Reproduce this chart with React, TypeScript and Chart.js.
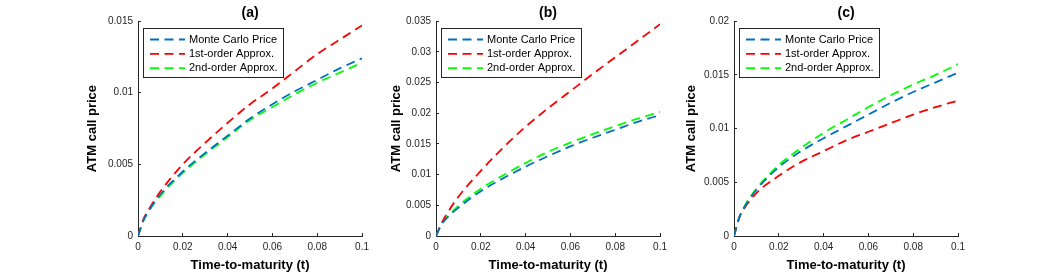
import React, { useEffect, useRef } from "react";
import { Chart, registerables } from "chart.js";

Chart.register(...registerables);

const FONT = "'Liberation Sans', Arial, Helvetica, sans-serif";

// ---- shared data ----
const xValues = [0, 0.0025, 0.005, 0.01, 0.02, 0.03, 0.04, 0.05, 0.06, 0.07, 0.08, 0.09, 0.1];
const seriesLabels = ["Monte Carlo Price", "1st-order Approx.", "2nd-order Approx."];
const seriesColors = ["#0072BD", "#FF0000", "#00FF00"];
const xTicks = [0, 0.02, 0.04, 0.06, 0.08, 0.1];
const xTickLabels = ["0", "0.02", "0.04", "0.06", "0.08", "0.1"];
const panelTitles = ["(a)", "(b)", "(c)"];
const xTitle = "Time-to-maturity (t)";
const yTitle = "ATM call price";

// ---- panel (a) ----
const aMonteCarlo = [0, 0.0011, 0.0018, 0.0029, 0.0045, 0.0058, 0.007, 0.0082, 0.0092, 0.0101, 0.0109, 0.0117, 0.0124];
const aFirstOrder = [0, 0.0012, 0.0019, 0.0031, 0.005, 0.0065, 0.0079, 0.0092, 0.0103, 0.0115, 0.0127, 0.0137, 0.0147];
const aSecondOrder = [0, 0.0011, 0.0018, 0.0028, 0.0044, 0.0057, 0.0069, 0.0081, 0.009, 0.0099, 0.0107, 0.0114, 0.0121];
const aYTicks = [0, 0.005, 0.01, 0.015];
const aYTickLabels = ["0", "0.005", "0.01", "0.015"];

// ---- panel (b) ----
const bMonteCarlo = [0, 0.0019, 0.003, 0.0046, 0.0073, 0.0094, 0.0113, 0.013, 0.0146, 0.016, 0.0173, 0.0186, 0.0197];
const bFirstOrder = [0, 0.0021, 0.0037, 0.0064, 0.0106, 0.0144, 0.0178, 0.0208, 0.0236, 0.0264, 0.0291, 0.0318, 0.0345];
const bSecondOrder = [0, 0.002, 0.0031, 0.0049, 0.0077, 0.0099, 0.0119, 0.0137, 0.0152, 0.0166, 0.0179, 0.0191, 0.0202];
const bYTicks = [0, 0.005, 0.01, 0.015, 0.02, 0.025, 0.03, 0.035];
const bYTickLabels = ["0", "0.005", "0.01", "0.015", "0.02", "0.025", "0.03", "0.035"];

// ---- panel (c) ----
const cMonteCarlo = [0, 0.0018, 0.0028, 0.0043, 0.0064, 0.0079, 0.0091, 0.0102, 0.0113, 0.0124, 0.0134, 0.0143, 0.0152];
const cFirstOrder = [0, 0.0018, 0.0027, 0.004, 0.0056, 0.0069, 0.0079, 0.0089, 0.0097, 0.0105, 0.0113, 0.012, 0.0126];
const cSecondOrder = [0, 0.0018, 0.0029, 0.0044, 0.0066, 0.0082, 0.0096, 0.0108, 0.012, 0.0131, 0.0141, 0.015, 0.016];
const cYTicks = [0, 0.005, 0.01, 0.015, 0.02];
const cYTickLabels = ["0", "0.005", "0.01", "0.015", "0.02"];

const panels = [
  { title: panelTitles[0], series: [aMonteCarlo, aFirstOrder, aSecondOrder], yTicks: aYTicks, yLabels: aYTickLabels, canvasLeft: 85, yWidth: 53 },
  { title: panelTitles[1], series: [bMonteCarlo, bFirstOrder, bSecondOrder], yTicks: bYTicks, yLabels: bYTickLabels, canvasLeft: 389, yWidth: 47 },
  { title: panelTitles[2], series: [cMonteCarlo, cFirstOrder, cSecondOrder], yTicks: cYTicks, yLabels: cYTickLabels, canvasLeft: 684, yWidth: 50 },
];

const PLOT_W = 227;
const RIGHT_PAD = 12;
const CANVAS_H = 273;
const AXIS_COLOR = "#262626";
const DASH = [9, 5.5];
const LINE_W = 1.8;

const boxLegend = {
  id: "boxLegend",
  afterDatasetsDraw(chart: any) {
    const { ctx, chartArea } = chart;
    const x0 = Math.round(chartArea.left + 5);
    const y0 = Math.round(chartArea.top + 7);
    const w = 140;
    const h = 49;
    ctx.save();
    ctx.fillStyle = "#ffffff";
    ctx.fillRect(x0, y0, w, h);
    ctx.strokeStyle = AXIS_COLOR;
    ctx.lineWidth = 1;
    ctx.strokeRect(x0 + 0.5, y0 + 0.5, w, h);
    chart.data.datasets.forEach((ds: any, i: number) => {
      const y = y0 + 11.5 + i * 14.3;
      ctx.strokeStyle = ds.borderColor;
      ctx.lineWidth = ds.borderWidth;
      ctx.setLineDash(ds.borderDash);
      ctx.beginPath();
      ctx.moveTo(x0 + 7, y);
      ctx.lineTo(x0 + 42, y);
      ctx.stroke();
      ctx.setLineDash([]);
      ctx.fillStyle = "#000000";
      ctx.font = `11px ${FONT}`;
      ctx.textBaseline = "middle";
      ctx.textAlign = "left";
      ctx.fillText(ds.label, x0 + 46, y);
    });
    ctx.restore();
  },
};

function Panel(props: any) {
  const { title, series, yTicks, yLabels, canvasLeft, yWidth } = props;
  const ref = useRef<HTMLCanvasElement>(null);
  const width = yWidth + PLOT_W + RIGHT_PAD;

  useEffect(() => {
    if (!ref.current) return;
    const datasets = series.map((vals: number[], i: number) => ({
      label: seriesLabels[i],
      data: xValues.map((x, j) => ({ x, y: vals[j] })),
      borderColor: seriesColors[i],
      backgroundColor: seriesColors[i],
      borderWidth: LINE_W,
      borderDash: DASH,
      pointRadius: 0,
      fill: false,
      cubicInterpolationMode: "monotone",
    }));
    const chart = new Chart(ref.current, {
      type: "line",
      data: { datasets },
      plugins: [boxLegend],
      options: {
        animation: false,
        responsive: false,
        devicePixelRatio: 1,
        layout: { padding: { left: 0, right: RIGHT_PAD, top: 0, bottom: 0 } },
        plugins: {
          legend: { display: false },
          tooltip: { enabled: false },
          title: {
            display: true,
            text: title,
            color: "#000000",
            font: { family: FONT, size: 14, weight: "bold" },
            padding: { top: 4.3, bottom: 0 },
            fullSize: false,
          },
        },
        scales: {
          x: {
            type: "linear",
            position: "bottom",
            min: xTicks[0],
            max: xTicks[xTicks.length - 1],
            afterBuildTicks: (scale: any) => {
              scale.ticks = xTicks.map((v) => ({ value: v }));
            },
            afterFit: (scale: any) => {
              scale.height = 37;
            },
            border: { display: true, color: AXIS_COLOR, width: 1 },
            grid: { drawOnChartArea: false, drawTicks: true, tickLength: -3, color: AXIS_COLOR },
            ticks: {
              padding: 8,
              maxRotation: 0,
              color: AXIS_COLOR,
              font: { family: FONT, size: 10 },
              callback: (_v: any, i: number) => xTickLabels[i],
            },
            title: {
              display: true,
              text: xTitle,
              color: "#000000",
              font: { family: FONT, size: 13, weight: "bold" },
              padding: { top: 0, bottom: 0 },
            },
          },
          y: {
            type: "linear",
            position: "left",
            min: yTicks[0],
            max: yTicks[yTicks.length - 1],
            afterBuildTicks: (scale: any) => {
              scale.ticks = yTicks.map((v: number) => ({ value: v }));
            },
            afterFit: (scale: any) => {
              scale.width = yWidth;
            },
            border: { display: true, color: AXIS_COLOR, width: 1 },
            grid: { drawOnChartArea: false, drawTicks: true, tickLength: -3, color: AXIS_COLOR },
            ticks: {
              padding: 8,
              color: AXIS_COLOR,
              font: { family: FONT, size: 10 },
              callback: (_v: any, i: number) => yLabels[i],
            },
            title: {
              display: true,
              text: yTitle,
              color: "#000000",
              font: { family: FONT, size: 13, weight: "bold" },
              padding: { top: 0, bottom: 0 },
            },
          },
        },
      } as any,
    });
    return () => chart.destroy();
  }, []);

  return (
    <canvas
      ref={ref}
      width={width}
      height={CANVAS_H}
      style={{ position: "absolute", left: canvasLeft, top: 0, width, height: CANVAS_H }}
    />
  );
}

export default function App() {
  return (
    <div style={{ position: "absolute", left: 0, top: 0, width: 1063, height: 273, background: "#ffffff", overflow: "hidden" }}>
      {panels.map((p) => (
        <Panel key={p.title} {...p} />
      ))}
    </div>
  );
}
